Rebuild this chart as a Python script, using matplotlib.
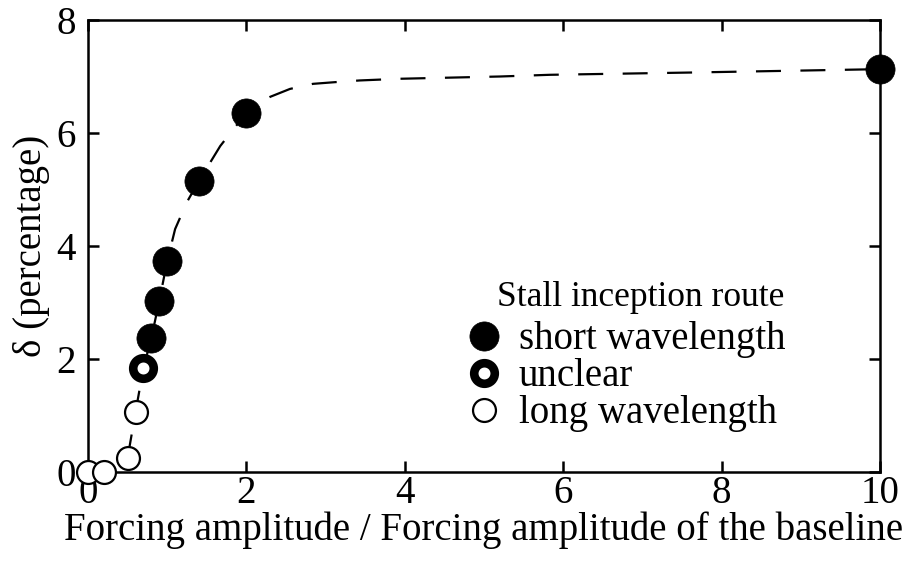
import matplotlib
matplotlib.use("Agg")
import matplotlib.pyplot as plt
from matplotlib.lines import Line2D

plt.rcParams['font.family'] = ['Liberation Serif', 'DejaVu Serif']
plt.rcParams['lines.scale_dashes'] = False

# data
long_x = [0.0, 0.2, 0.5, 0.6]
long_y = [0.0, 0.0, 0.25, 1.06]
unclear_x = [0.7]
unclear_y = [1.84]
short_x = [0.8, 0.9, 1.0, 1.4, 2.0, 10.0]
short_y = [2.37, 3.03, 3.73, 5.15, 6.35, 7.13]

curve_x = [0.0, 0.2, 0.4, 0.5, 0.6, 0.7, 0.8, 0.9, 1.0, 1.1, 1.25, 1.4, 1.67,
           1.86, 2.0, 2.15, 2.3, 2.55, 2.84, 3.12, 3.43, 3.94, 5.2, 5.83, 7.6, 10.0]
curve_y = [0.0, 0.0, 0.05, 0.25, 1.06, 1.84, 2.37, 3.03, 3.73, 4.3, 4.78, 5.15, 5.77,
           6.11, 6.35, 6.53, 6.64, 6.78, 6.87, 6.9, 6.93, 6.96, 7.0, 7.03, 7.07, 7.13]

xticks = [0, 2, 4, 6, 8, 10]
yticks = [0, 2, 4, 6, 8]

fig = plt.figure(figsize=(9.05, 5.61), dpi=100)
ax = fig.add_axes([88/905, 89/561, 792/905, 452/561])

ax.plot(curve_x, curve_y, color='black', lw=1.6, dashes=(18, 14), zorder=1)

ax.plot(short_x, short_y, 'o', ms=21, mfc='black', mec='black', mew=0.5,
        ls='none', clip_on=False, zorder=3)
ax.plot(unclear_x, unclear_y, 'o', ms=14.8, mfc='white', mec='black', mew=6.2,
        ls='none', clip_on=False, zorder=3)
ax.plot(long_x, long_y, 'o', ms=16.5, mfc='white', mec='black', mew=1.6,
        ls='none', clip_on=False, zorder=3)

ax.set_xlim(0, 10)
ax.set_ylim(0, 8)
ax.set_xticks(xticks)
ax.set_yticks(yticks)
ax.tick_params(direction='in', top=True, right=True, length=8, width=1.8,
               labelsize=28)
ax.tick_params(axis='x', pad=2)
ax.tick_params(axis='y', pad=9)
for s in ax.spines.values():
    s.set_linewidth(1.8)

ax.set_xlabel('Forcing amplitude / Forcing amplitude of the baseline',
              fontsize=28, labelpad=0)
ax.set_ylabel('δ (percentage)', fontsize=28, labelpad=4)

ax.text(0.516, 0.385, 'Stall inception route', transform=ax.transAxes,
        fontsize=25.5, ha='left', va='center')

handles = [
    Line2D([], [], marker='o', ls='none', ms=21, mfc='black', mec='black', mew=0.5),
    Line2D([], [], marker='o', ls='none', ms=14.8, mfc='white', mec='black', mew=6.2),
    Line2D([], [], marker='o', ls='none', ms=16.5, mfc='white', mec='black', mew=1.6),
]
labels = ['short wavelength', 'unclear', 'long wavelength']
leg = ax.legend(handles, labels, frameon=False,
                fontsize=28, loc='upper left',
                bbox_to_anchor=(0.4513, 0.376), handlelength=1.0, handletextpad=0.39,
                labelspacing=0.0, borderpad=0)

fig.savefig('out.png', dpi=100)
